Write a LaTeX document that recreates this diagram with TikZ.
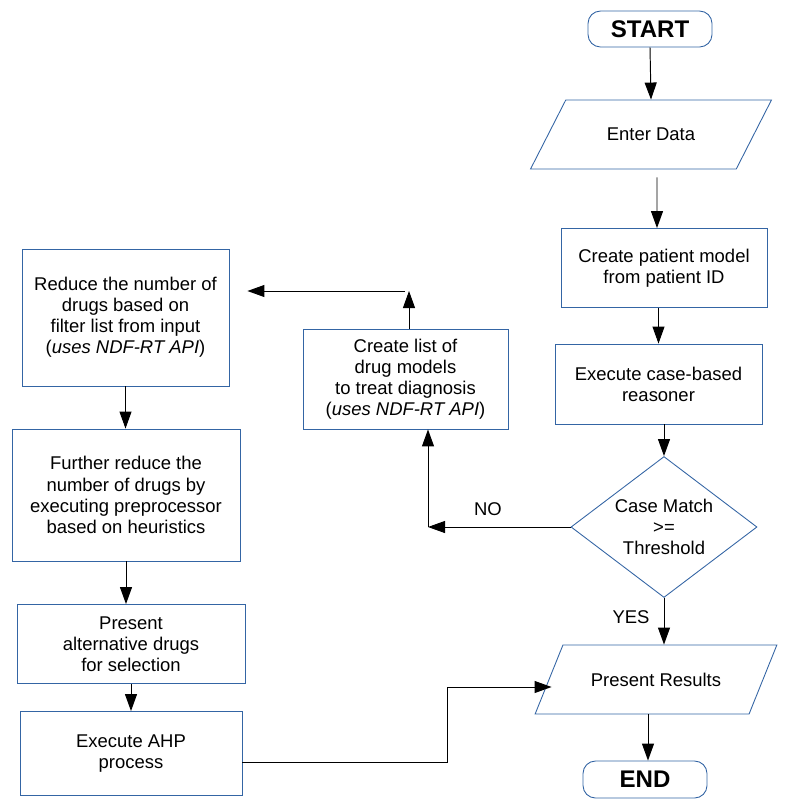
\documentclass[tikz,border=0pt]{standalone}
\usepackage{fontspec}
\setmainfont{Liberation Sans}
\usepackage{tikz}
\usetikzlibrary{arrows.meta,shapes.geometric,calc}
\definecolor{boxblue}{HTML}{3465A4}
\tikzset{
  procbox/.style={draw=boxblue, line width=0.5pt, rectangle, align=center, inner sep=2pt},
  termbox/.style={draw=boxblue, line width=0.5pt, rounded corners=2.5mm, font=\fontsize{13.7}{16}\selectfont\bfseries},
  iobox/.style={draw=boxblue, line width=0.5pt, trapezium, trapezium left angle=50, trapezium right angle=130, trapezium stretches=true, minimum width=4.84cm, minimum height=1.38cm},
  decbox/.style={draw=boxblue, line width=0.5pt, diamond, aspect=1.32, minimum width=3.72cm, minimum height=2.82cm, align=center, inner sep=0pt},
  arr/.style={-{Triangle[length=3.4mm, width=2.4mm]}, line width=0.55pt}
}

\begin{document}
\begin{tikzpicture}[font=\fontsize{10.5}{12}\selectfont]
  \useasboundingbox (0,0) rectangle (16,-16.1);
  \node[termbox, minimum width=2.48cm, minimum height=0.72cm] (start) at (13.0,-0.58) {START};
  \node[iobox] (enter) at (13.02,-2.69) {Enter Data};
  \node[procbox, minimum width=4.12cm, minimum height=1.58cm] (patient) at (13.28,-5.36) {Create patient model\\from patient ID};
  \node[procbox, minimum width=4.14cm, minimum height=1.6cm] (cbr) at (13.17,-7.68) {Execute case-based\\reasoner};
  \node[decbox] (match) at (13.28,-10.54) {Case Match\\>=\\Threshold};
  \node[iobox] (results) at (13.12,-13.59) {Present Results};
  \node[termbox, minimum width=2.48cm, minimum height=0.74cm] (end) at (12.9,-15.59) {END};

  \node[procbox, minimum width=4.1cm, minimum height=2.0cm] (list) at (8.11,-7.58) {Create list of\\drug models\\to treat diagnosis\\(\textit{uses NDF-RT API})};
  \node[procbox, minimum width=4.14cm, minimum height=2.74cm] (reduce) at (2.51,-6.35) {Reduce the number of\\drugs based on\\filter list from input\\(\textit{uses NDF-RT API})};
  \node[procbox, minimum width=4.56cm, minimum height=2.64cm] (further) at (2.52,-9.9) {Further reduce the\\number of drugs by\\executing preprocessor\\based on heuristics};
  \node[procbox, minimum width=4.56cm, minimum height=1.58cm] (alt) at (2.62,-12.88) {Present\\alternative drugs\\for selection};
  \node[procbox, minimum width=4.44cm, minimum height=1.68cm] (ahp) at (2.62,-15.07) {Execute AHP\\process};

  \coordinate (up) at (8.18,-5.82);
  \coordinate (no) at (8.56,-10.54);
  \coordinate (jog) at (8.94,-13.74);

  \draw[arr] (start.south) -- (enter.north);
  \draw[arr] ([xshift=0.12cm,yshift=-0.16cm]enter.south) -- ([xshift=-0.14cm]patient.north);
  \draw[arr] (cbr.north |- patient.south) -- (cbr.north);
  \draw[arr] (cbr.south -| match) -- (match.north);
  \draw[arr] (match.south) -- (match.south |- results.north);
  \draw[arr] ([xshift=0.06cm]end.north |- results.south) -- ([xshift=0.06cm]end.north);

  \draw[arr] (match.west) -- (no);
  \draw[arr] (no) -- (no |- list.south);
  \draw[arr] (up |- list.north) -- (up);
  \draw[arr] ([xshift=-0.08cm]up) -- ([xshift=0.36cm]reduce.east |- up);

  \draw[arr] (reduce.south) -- (reduce.south |- further.north);
  \draw[arr] (further.south) -- (further.south |- alt.north);
  \draw[arr] (alt.south) -- (alt.south |- ahp.north);
  \draw[arr] ([yshift=-0.18cm]ahp.east) -| (jog) -- ([xshift=0.06cm]jog -| results.west);

  \node (yes) at (12.62,-12.34) {YES};
  \node (nolabel) at (9.76,-10.18) {NO};
\end{tikzpicture}
\end{document}
